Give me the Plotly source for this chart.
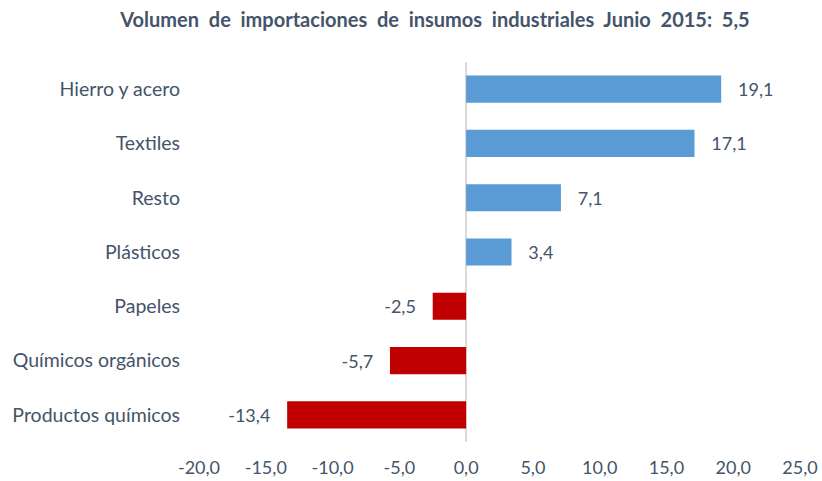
import plotly.graph_objects as go

categories = ["Hierro y acero", "Textiles", "Resto", "Plásticos", "Papeles",
              "Químicos orgánicos", "Productos químicos"]
values = [19.1, 17.1, 7.1, 3.4, -2.5, -5.7, -13.4]
tick_vals = [-20, -15, -10, -5, 0, 5, 10, 15, 20, 25]
tick_text = ["-20,0", "-15,0", "-10,0", "-5,0", "0,0", "5,0", "10,0", "15,0", "20,0", "25,0"]

FONT = "Lato, Open Sans, sans-serif"
TXT = "#44546A"
colors = ["#5B9BD5" if v >= 0 else "#C00000" for v in values]
pad = "\u00a0\u00a0\u00a0"
labels = [(pad + f"{v:.1f}".replace(".", ",")) if v >= 0 else (f"{v:.1f}".replace(".", ",") + pad)
          for v in values]
title_text = "Volumen de importaciones de insumos industriales Junio 2015: 5,5"
title_html = "<b>" + title_text.replace(" ", "\u00a0\u00a0") + "</b>"

fig = go.Figure(go.Bar(
    x=values, y=categories, orientation="h",
    marker=dict(color=colors, line=dict(width=0)),
    text=labels,
    textposition="outside", cliponaxis=False,
    textfont=dict(family=FONT, size=18, color=TXT),
    width=0.5,
))

fig.update_layout(
    width=822, height=481,
    margin=dict(l=199, r=22, t=62, b=39, autoexpand=False),
    paper_bgcolor="white", plot_bgcolor="white",
    showlegend=False,
    title=dict(text=title_html,
               x=435 / 822, xanchor="center", y=1 - 20 / 481, yref="container", yanchor="middle",
               font=dict(family=FONT, size=20, color="#44546A")),
    xaxis=dict(range=[-20, 25], tickvals=tick_vals, ticktext=tick_text,
               showgrid=False, zeroline=True, zerolinecolor="#D9D9D9", zerolinewidth=1.5,
               showline=False, ticks="", automargin=False, ticklabelstandoff=13,
               tickfont=dict(family=FONT, size=18, color=TXT)),
    yaxis=dict(categoryorder="array", categoryarray=categories[::-1],
               showgrid=False, showline=False, ticks="", ticklabelstandoff=18,
               automargin=False,
               tickfont=dict(family=FONT, size=19.5, color=TXT)),
    bargap=0.5,
)

fig.write_html("out.html", config={"displayModeBar": False},
               post_script="document.body.style.margin='0';document.body.style.padding='0';")
